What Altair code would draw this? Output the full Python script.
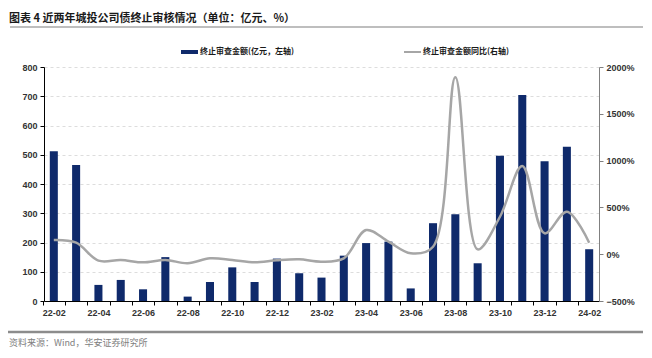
import altair as alt
import pandas as pd

months = ['22-02', '22-03', '22-04', '22-05', '22-06', '22-07', '22-08', '22-09', '22-10', '22-11', '22-12',
          '23-01', '23-02', '23-03', '23-04', '23-05', '23-06', '23-07', '23-08', '23-09', '23-10', '23-11', '23-12',
          '24-01', '24-02']
amount = [512, 465, 55, 72, 40, 150, 15, 65, 115, 65, 145, 95, 80, 155, 198, 203, 43, 266, 297, 129, 497, 704, 478, 527, 177]
# year-on-year change as a fraction (1.52 = 152%)
yoy = [1.52, 1.23, -0.69, -0.62, -0.87, -0.62, -0.97, -0.44, -0.62, -0.87, -0.65, -0.55, -0.80, -0.44,
       2.58, 1.34, 0.09, 0.80, 18.90, 0.52, 4.00, 9.42, 2.23, 4.54, 1.23]

bar_name = '终止审查金额(亿元，左轴)'
line_name = '终止审查金额同比(右轴)'
title_text = '图表 4  近两年城投公司债终止审核情况（单位：亿元、%）'
source_text = '资料来源：Wind，华安证券研究所'

df = pd.DataFrame({'month': months, 'amount': amount, 'yoy': yoy})

W, H = 555, 234
P_IN, P_OUT = 0.64, 0.26
HALF_STEP = W / (len(months) - P_IN + 2 * P_OUT) / 2
FONT = 'Liberation Sans'
CJK = 'Noto Sans CJK SC'

xenc = alt.X('month:N', sort=months, title=None,
             scale=alt.Scale(paddingInner=P_IN, paddingOuter=P_OUT),
             axis=alt.Axis(labelAngle=0, tickOffset=-HALF_STEP, labelOffset=HALF_STEP,
                           labelOverlap='parity', labelSeparation=1,
                           domainColor='#000000', tickColor='#000000', tickSize=4,
                           labelFont=FONT, labelFontSize=9, labelFontWeight='bold', labelColor='#333333',
                           labelPadding=3, grid=False, orient='bottom'))

bars = alt.Chart(df).mark_bar(color='#0F2A6B').encode(
    x=xenc,
    y=alt.Y('amount:Q', title=None, scale=alt.Scale(domain=[0, 800], nice=False),
            axis=alt.Axis(values=list(range(0, 801, 100)), orient='left', domainColor='#000000',
                          tickColor='#000000', tickSize=4, labelFont=FONT, labelFontSize=9,
                          labelFontWeight='bold', labelColor='#333333', labelPadding=3,
                          grid=True, gridColor='#D4D4D4', gridDash=[3, 3], gridWidth=0.8))
)

line = alt.Chart(df).mark_line(color='#A6A6A6', strokeWidth=2.5, interpolate='catmull-rom').encode(
    x=alt.X('month:N', sort=months),
    y=alt.Y('yoy:Q', title=None, scale=alt.Scale(domain=[-5, 20], nice=False),
            axis=alt.Axis(values=[-5, 0, 5, 10, 15, 20], orient='right',
                          format='.0%', domainColor='#808080', tickColor='#808080',
                          tickSize=4, labelFont=FONT, labelFontSize=9, labelFontWeight='bold',
                          labelColor='#333333', labelPadding=3, grid=False))
)

main = alt.layer(bars, line).resolve_scale(y='independent')

one = pd.DataFrame({'k': [0]})

title = alt.Chart(one).mark_text(align='left', baseline='alphabetic', font=CJK, fontSize=11,
                                 fontWeight='bold', color='#1A1A1A').encode(
    x=alt.value(-35), y=alt.value(-45), text=alt.value(title_text))
title_rule = alt.Chart(one).mark_rule(color='#7F7F7F', strokeWidth=1.2).encode(
    x=alt.value(-34), x2=alt.value(W + 44), y=alt.value(-40))

leg_bar = alt.Chart(one).mark_rule(color='#0F2A6B', strokeWidth=4).encode(
    x=alt.value(137), x2=alt.value(154), y=alt.value(-15))
leg_bar_t = alt.Chart(one).mark_text(align='left', baseline='middle', font=CJK, fontSize=8,
                                     fontWeight='bold', color='#1A1A1A').encode(
    x=alt.value(156), y=alt.value(-15), text=alt.value(bar_name))
leg_line = alt.Chart(one).mark_rule(color='#A6A6A6', strokeWidth=2).encode(
    x=alt.value(360), x2=alt.value(377), y=alt.value(-15))
leg_line_t = alt.Chart(one).mark_text(align='left', baseline='middle', font=CJK, fontSize=8,
                                      fontWeight='bold', color='#1A1A1A').encode(
    x=alt.value(379), y=alt.value(-15), text=alt.value(line_name))

foot_rule = alt.Chart(one).mark_rule(color='#8C8C8C', strokeWidth=2.5).encode(
    x=alt.value(-37), x2=alt.value(W + 44), y=alt.value(H + 31))
foot_t = alt.Chart(one).mark_text(align='left', baseline='middle', font=CJK, fontSize=9,
                                  color='#808080').encode(
    x=alt.value(-35), y=alt.value(H + 42), text=alt.value(source_text))

chart = alt.layer(main, title, title_rule, leg_bar, leg_bar_t, leg_line, leg_line_t,
                  foot_rule, foot_t).properties(
    width=W, height=H,
    autosize=alt.AutoSizeParams(type='none'),
    padding={'left': 36, 'top': 59, 'right': 45, 'bottom': 49},
).configure_view(stroke=None)

chart.save('out.html', embed_options={'renderer': 'svg', 'actions': False})
